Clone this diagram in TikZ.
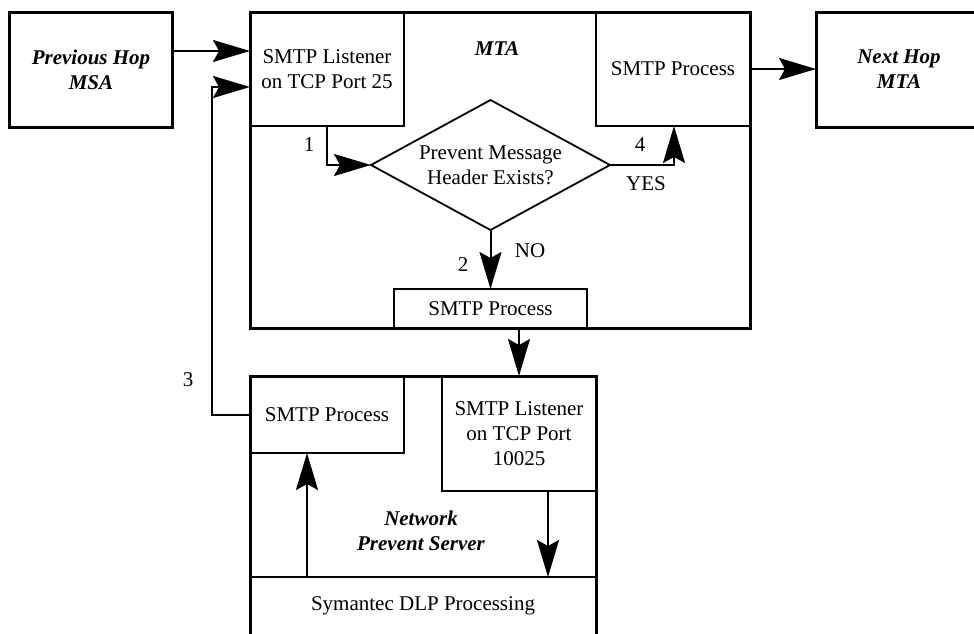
\documentclass[tikz,border=0pt]{standalone}
\usepackage{fontspec}
\setmainfont{Liberation Serif}
\usetikzlibrary{arrows.meta,shapes.geometric,calc}
\begin{document}
\begin{tikzpicture}[x=1pt,y=-1pt,
  every node/.style={font=\fontsize{21}{25}\selectfont, align=center, inner sep=0pt, outer sep=0pt},
  thickbox/.style={draw, line width=3pt},
  thinbox/.style={draw, line width=1.8pt, fill=white},
  arr/.style={line width=2pt, -{Stealth[length=37pt,width=22pt,inset=6pt]}},
  lbl/.style={font=\fontsize{21}{25}\selectfont},
  title/.style={font=\fontsize{21}{25}\selectfont\bfseries\itshape}
]
\useasboundingbox (0,0) rectangle (974,633);
\clip (0,0) rectangle (974,633);
\fill[white] (0,0) rectangle (974,633);

% outer boxes
\node[thickbox, minimum width=163pt, minimum height=115pt, title] (prev) at (91,69.5) {Previous Hop\\MSA};
\node[thickbox, minimum width=200pt, minimum height=115pt, anchor=west] (next) at (816,69.5) {};
\node[title] (nextlabel) at (899,69.5) {Next Hop\\MTA};

% MTA
\node[minimum width=500pt, minimum height=316pt] (mta) at (500,170) {};
\node[thinbox, minimum width=154pt, minimum height=114pt] (lis25) at (327,69) {SMTP Listener\\on TCP Port 25};
\node[thinbox, minimum width=154pt, minimum height=114pt] (proc1) at (673,69) {SMTP Process};
\node[thinbox, minimum width=193pt, minimum height=39pt] (proc2) at (490.5,308.5) {SMTP Process};
\draw[line width=3pt] (mta.north west) rectangle (mta.south east);
\node[title] (mtalabel) at (497,49) {MTA};
\node[draw, diamond, line width=1.8pt, minimum width=239pt, minimum height=130pt] (dia) at (490.5,165) {};
\node (diatext) at (490.5,165.5) {Prevent Message\\Header Exists?};

% Network Prevent Server
\node[minimum width=346pt, minimum height=259pt] (nps) at (423,505.5) {};
\node[thinbox, minimum width=154pt, minimum height=77pt] (proc3) at (327,414.5) {SMTP Process};
\node[thinbox, minimum width=154pt, minimum height=115pt] (lis10025) at (519,433.5) {SMTP Listener\\on TCP Port\\10025};
\node[thinbox, minimum width=346pt, minimum height=58pt] (dlp) at (423,606) {Symantec DLP Processing};
\draw[line width=3pt] (nps.north west) rectangle (nps.south east);
\node[title] (npslabel) at (421,531) {Network\\Prevent Server};

% connectors
\coordinate (c0) at (0,51);
\draw[arr] (prev.east |- c0) -- (lis25.west |- c0);
\draw[arr] (proc1.east) -- (next.west |- proc1.east);
\draw[arr] (lis25.south) |- (dia.west);
\draw[arr] (dia.east) -| ([xshift=1pt]proc1.south);
\draw[arr] (dia.south) -- (proc2.north);
\draw[arr] (lis10025.north |- mta.south) -- (lis10025.north);
\draw[arr] ([xshift=-20pt]proc3.south |- dlp.north) -- ([xshift=-20pt]proc3.south);
\draw[arr] ([xshift=29pt]lis10025.south) -- ([xshift=29pt]lis10025.south |- dlp.north);
\coordinate (c3) at (212,87);
\draw[arr] (proc3.west) -| (c3) -- (lis25.west |- c3);

% labels
\node[lbl] (l1) at (309,145) {1};
\node[lbl] (l4) at (640,145) {4};
\node[lbl] (lyes) at (646,184) {YES};
\node[lbl] (lno) at (530,251) {NO};
\node[lbl] (l2) at (463,265) {2};
\node[lbl] (l3) at (188,380) {3};
\end{tikzpicture}
\end{document}
